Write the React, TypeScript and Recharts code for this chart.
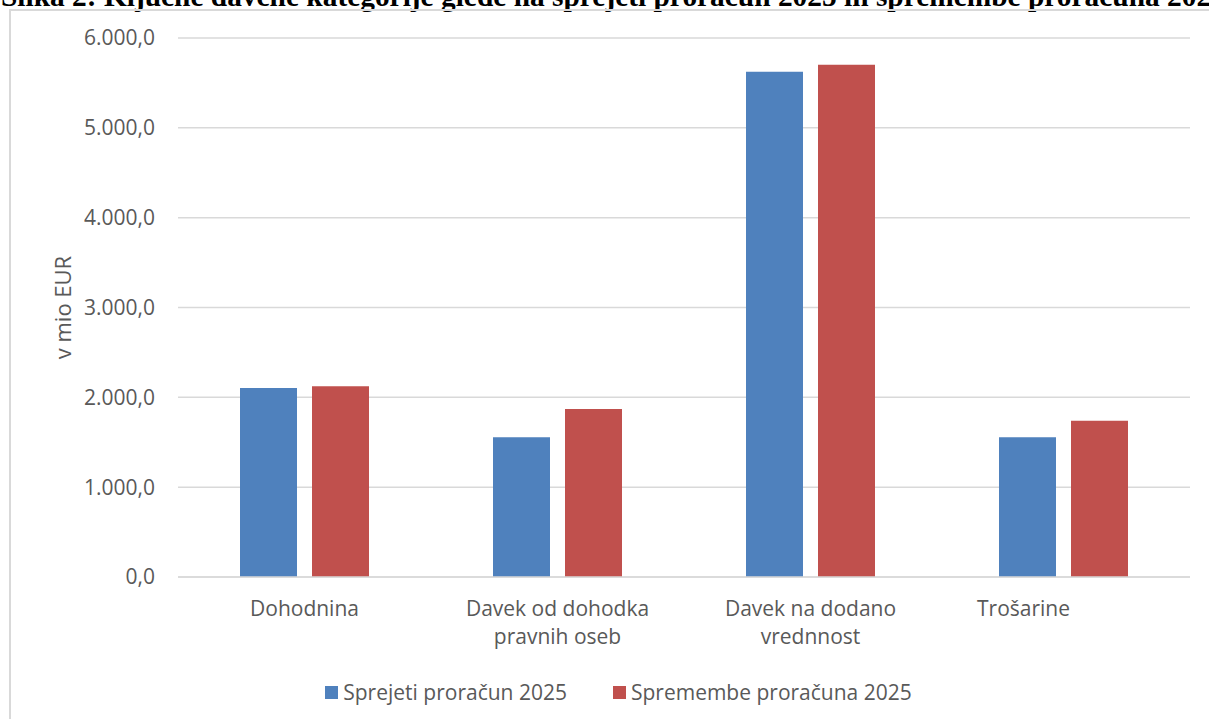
import { Bar, BarChart, CartesianGrid, XAxis, YAxis } from 'recharts'

const categories = [
  'Dohodnina',
  'Davek od dohodka\npravnih oseb',
  'Davek na dodano\nvrednnost',
  'Trošarine',
]

const sprejeti = [2104, 1557, 5623, 1557]
const spremembe = [2122, 1869, 5701, 1739]

const yTicks = [0, 1000, 2000, 3000, 4000, 5000, 6000]

const seriesNames = ['Sprejeti proračun 2025', 'Spremembe proračuna 2025']
const seriesColors = ['#4F81BD', '#C0504D']

const title =
  'Slika 2: Ključne davčne kategorije glede na sprejeti proračun 2025 in spremembe proračuna 2025'

const data = categories.map((name, i) => ({
  name,
  sprejeti: sprejeti[i],
  spremembe: spremembe[i],
}))

const FONT = '"Open Sans", sans-serif'
const TEXT = '#595959'
const GRID = '#d9d9d9'
const FONT_SIZE = 21

// the last category label sits a bit left of its band centre
const tickShift = [0, 0, 0, -40]

// 6000 -> "6.000,0"
const formatValue = (v: number) => {
  const [int, dec] = v.toFixed(1).split('.')
  return int.replace(/\B(?=(\d{3})+(?!\d))/g, '.') + ',' + dec
}

const CategoryTick = ({ x, y, payload, index }: any) => {
  const lines = String(payload.value).split('\n')
  const tx = x + (tickShift[index] ?? 0)
  return (
    <text x={tx} y={y} textAnchor="middle" fill={TEXT} fontSize={FONT_SIZE} fontFamily={FONT}>
      {lines.map((line, i) => (
        <tspan key={i} x={tx} dy={i === 0 ? 39 : 28}>
          {line}
        </tspan>
      ))}
    </text>
  )
}

const AxisTitle = ({ viewBox }: any) => {
  const cx = viewBox.x + 62
  const cy = viewBox.y + viewBox.height / 2
  return (
    <text
      x={cx}
      y={cy}
      transform={`rotate(-90 ${cx} ${cy})`}
      textAnchor="middle"
      dominantBaseline="central"
      fill={TEXT}
      fontSize={22}
      fontFamily={FONT}
    >
      v mio EUR
    </text>
  )
}

export default function App() {
  return (
    <div
      style={{
        position: 'absolute',
        left: 0,
        top: 0,
        width: 1209,
        height: 719,
        overflow: 'hidden',
        background: '#fff',
      }}
    >
      <svg width={1209} height={20} style={{ position: 'absolute', left: 0, top: 0 }}>
        <text
          x={1}
          y={6}
          fontFamily='"Liberation Serif", "Times New Roman", serif'
          fontWeight="bold"
          fontSize={29.4}
          fill="#000"
        >
          {title}
        </text>
      </svg>
      <div
        style={{
          position: 'absolute',
          left: 9,
          top: 9,
          width: 1300,
          height: 800,
          borderTop: `2px solid ${GRID}`,
          borderLeft: `2px solid ${GRID}`,
        }}
      />
      <div style={{ position: 'absolute', left: 0, top: 0 }}>
        <BarChart
          width={1209}
          height={719}
          data={data}
          margin={{ top: 38, right: 19, left: 0, bottom: 42 }}
          barSize={57}
          barGap={15}
        >
          <CartesianGrid vertical={false} stroke={GRID} strokeWidth={1.5} />
          <XAxis
            dataKey="name"
            height={100}
            tickLine={false}
            tickSize={0}
            tickMargin={0}
            axisLine={{ stroke: GRID, strokeWidth: 1.5 }}
            tick={<CategoryTick />}
            interval={0}
          />
          <YAxis
            width={178}
            domain={[0, 6000]}
            ticks={yTicks}
            tickFormatter={formatValue}
            axisLine={false}
            tickLine={false}
            tickSize={0}
            tickMargin={23}
            tick={{ fill: TEXT, fontSize: FONT_SIZE, fontFamily: FONT }}
            label={<AxisTitle />}
          />
          <Bar dataKey="sprejeti" name={seriesNames[0]} fill={seriesColors[0]} isAnimationActive={false} />
          <Bar dataKey="spremembe" name={seriesNames[1]} fill={seriesColors[1]} isAnimationActive={false} />
        </BarChart>
      </div>
      <div
        style={{
          position: 'absolute',
          left: 0,
          top: 678,
          width: 1237,
          display: 'flex',
          justifyContent: 'center',
          gap: 46,
          fontFamily: FONT,
          fontSize: FONT_SIZE,
          color: TEXT,
          lineHeight: '28px',
        }}
      >
        {seriesNames.map((n, i) => (
          <div key={n} style={{ display: 'flex', alignItems: 'center', gap: 5 }}>
            <span style={{ width: 13, height: 13, background: seriesColors[i], display: 'inline-block' }} />
            <span>{n}</span>
          </div>
        ))}
      </div>
    </div>
  )
}
